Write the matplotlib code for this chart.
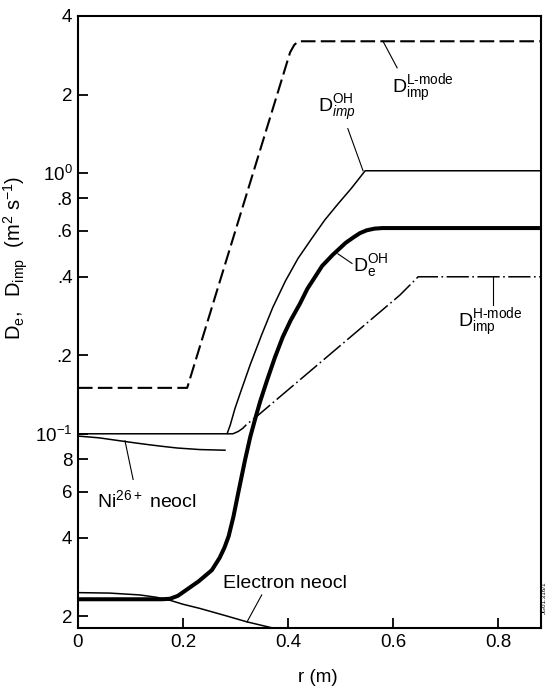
import matplotlib
matplotlib.use("Agg")
import matplotlib.pyplot as plt

plt.rcParams['font.family'] = ['Liberation Sans', 'DejaVu Sans']
plt.rcParams['mathtext.fontset'] = 'custom'
plt.rcParams['mathtext.rm'] = 'Liberation Sans'
plt.rcParams['mathtext.it'] = 'Liberation Sans:italic'
plt.rcParams['mathtext.bf'] = 'Liberation Sans:bold'
plt.rcParams['lines.scale_dashes'] = False

# ---- data (r in m, D in m^2/s) ----
r_Lmode = [0, 0.208, 0.404, 0.412, 0.42, 0.88]
D_Lmode = [0.15, 0.15, 2.9, 3.1, 3.2, 3.2]

r_OHimp = [0, 0.284, 0.29, 0.299, 0.31, 0.328, 0.35, 0.371, 0.395, 0.419, 0.445,
           0.47, 0.495, 0.52, 0.535, 0.547, 0.88]
D_OHimp = [0.1, 0.1, 0.108, 0.125, 0.145, 0.184, 0.24, 0.305, 0.385, 0.47, 0.56,
           0.66, 0.76, 0.87, 0.95, 1.02, 1.02]

r_Hmode = [0.284, 0.295, 0.305, 0.314, 0.322, 0.337, 0.613, 0.648, 0.88]
D_Hmode = [0.1, 0.1, 0.102, 0.105, 0.109, 0.115, 0.34, 0.4, 0.4]

r_DeOH = [0, 0.16, 0.175, 0.19, 0.204, 0.23, 0.255, 0.27, 0.279, 0.287, 0.296,
          0.305, 0.318, 0.328, 0.338, 0.347, 0.36, 0.375, 0.39, 0.405, 0.423,
          0.437, 0.45, 0.465, 0.485, 0.51, 0.525, 0.537, 0.55, 0.565, 0.58, 0.88]
D_DeOH = [0.0232, 0.0232, 0.0233, 0.0239, 0.025, 0.0272, 0.030, 0.0335, 0.0366, 0.0405, 0.048,
          0.059, 0.079, 0.097, 0.115, 0.133, 0.160, 0.196, 0.235, 0.272, 0.316,
          0.36, 0.395, 0.44, 0.485, 0.54, 0.567, 0.588, 0.603, 0.612, 0.615, 0.615]

r_Ni = [0, 0.04, 0.08, 0.11, 0.137, 0.165, 0.189, 0.232, 0.28]
D_Ni = [0.098, 0.0965, 0.094, 0.0922, 0.0907, 0.0893, 0.0882, 0.087, 0.0865]

r_eneo = [0, 0.06, 0.118, 0.15, 0.175, 0.2, 0.232, 0.28, 0.322, 0.371]
D_eneo = [0.0246, 0.0245, 0.0241, 0.0236, 0.0230, 0.0222, 0.0214, 0.0201, 0.0190, 0.018]

x_ticks = [0, 0.2, 0.4, 0.6, 0.8]
x_ticklabels = ['0', '0.2', '0.4', '0.6', '0.8']
y_ticks = [4, 2, 1, 0.8, 0.6, 0.4, 0.2, 0.1, 0.08, 0.06, 0.04, 0.02]
y_ticklabels = ['4', '2', r'$\mathregular{10^0}$', '.8', '.6', '.4', '.2',
                r'$\mathregular{10^{-1}}$', '8', '6', '4', '2']

fig = plt.figure(figsize=(5.47, 6.89), dpi=100)
ax = fig.add_axes([78/547, 1-628/689, (541-78)/547, (628-16)/689])
ax.set_yscale('log')
ax.set_xlim(0, 0.882)
ax.set_ylim(0.018, 4)

ax.plot(r_Lmode, D_Lmode, color='black', lw=1.5, dashes=(10.5, 3.8))
ax.plot(r_OHimp, D_OHimp, color='black', lw=1.1)
ax.plot(r_Hmode, D_Hmode, color='black', lw=1.1, dashes=(16, 2.5, 1.2, 2.5))
ax.plot(r_DeOH, D_DeOH, color='black', lw=2.9, solid_capstyle='butt',
        solid_joinstyle='round')
ax.plot(r_Ni, D_Ni, color='black', lw=1.1)
ax.plot(r_eneo, D_eneo, color='black', lw=1.1)

ax.set_xticks(x_ticks)
ax.set_xticklabels(x_ticklabels)
ax.set_yticks(y_ticks)
ax.set_yticklabels(y_ticklabels)
ax.minorticks_off()
ax.tick_params(direction='in', length=7, width=1.3, labelsize=13.5, pad=4)
ax.tick_params(top=False, right=False)
for s in ax.spines.values():
    s.set_linewidth(1.5)

ax.set_xlabel('r (m)', fontsize=13.5)
ax.xaxis.set_label_coords((318-78)/463, -(669-628)/612)
ax.set_ylabel(r'$\mathregular{D_e,\ \ D_{imp}\ \ (m^2\ s^{-1})}$', fontsize=14.5)
ax.yaxis.set_label_coords(-(78-30)/463, (628-258)/612)

fs = 14
# annotations
ax.plot([0.581, 0.608], [3.2, 2.53], color='black', lw=0.8)
ax.text(0.598, 2.1, r'$\mathregular{D_{imp}^{L\text{-}mode}}$', fontsize=fs, va='center')

ax.plot([0.514, 0.543], [1.48, 1.02], color='black', lw=0.8)
ax.text(0.457, 1.78, r'$\mathregular{D}_{imp}^{\mathregular{OH}}$', fontsize=fs, va='center')

ax.plot([0.495, 0.522], [0.49, 0.45], color='black', lw=0.8)
ax.text(0.524, 0.442, r'$\mathregular{D_e^{OH}}$', fontsize=fs, va='center')

ax.plot([0.79, 0.79], [0.4, 0.311], color='black', lw=0.8)
ax.text(0.724, 0.267, r'$\mathregular{D_{imp}^{H\text{-}mode}}$', fontsize=fs, va='center')

ax.plot([0.0895, 0.105], [0.094, 0.0668], color='black', lw=0.8)
ax.text(0.036, 0.0559, r'$\mathregular{Ni^{26+}}$ neocl', fontsize=fs, va='center')

ax.plot([0.35, 0.322], [0.0241, 0.019], color='black', lw=0.8)
ax.text(0.276, 0.0267, 'Electron neocl', fontsize=fs, va='center')

fig.text(544/547, 1-598/689, 'JG01.316/1', rotation=90, fontsize=4.5,
         ha='center', va='center')

fig.savefig('out.png', dpi=100)
